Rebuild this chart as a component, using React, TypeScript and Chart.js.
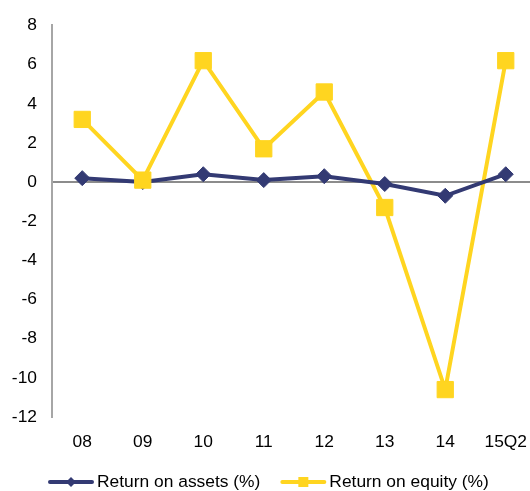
import React, { useEffect, useRef } from 'react';
import { Chart, registerables } from 'chart.js';

Chart.register(...registerables);

const categories = ['08', '09', '10', '11', '12', '13', '14', '15Q2'];
const returnOnAssets = [0.2, 0.0, 0.4, 0.1, 0.3, -0.1, -0.7, 0.4];
const returnOnEquity = [3.2, 0.1, 6.2, 1.7, 4.6, -1.3, -10.6, 6.2];
const seriesLabels = ['Return on assets (%)', 'Return on equity (%)'];
const yMin = -12;
const yMax = 8;
const yStep = 2;

const NAVY = '#333A73';
const YELLOW = '#FFD520';
const FONT = "'Liberation Sans', Arial, sans-serif";

const lineLegend = {
  id: 'lineLegend',
  afterDraw(chart: any) {
    const ctx = chart.ctx as CanvasRenderingContext2D;
    const items = [
      { text: seriesLabels[0], color: NAVY, marker: 'diamond' },
      { text: seriesLabels[1], color: YELLOW, marker: 'square' },
    ];
    ctx.save();
    ctx.font = `17.4px ${FONT}`;
    const lineW = 46;
    const textGap = 3;
    const itemGap = 20;
    const widths = items.map((it) => lineW + textGap + ctx.measureText(it.text).width);
    let x = 48;
    const y = chart.chartArea.bottom + 65;
    items.forEach((it, i) => {
      ctx.strokeStyle = it.color;
      ctx.lineWidth = 4;
      ctx.lineCap = 'round';
      ctx.beginPath();
      ctx.moveTo(x + 2, y);
      ctx.lineTo(x + lineW - 2, y);
      ctx.stroke();
      const cx = x + lineW / 2;
      ctx.fillStyle = it.color;
      ctx.beginPath();
      if (it.marker === 'diamond') {
        const r = 5;
        ctx.moveTo(cx, y - r);
        ctx.lineTo(cx + r, y);
        ctx.lineTo(cx, y + r);
        ctx.lineTo(cx - r, y);
        ctx.closePath();
      } else {
        const s = 5;
        ctx.rect(cx - s, y - s, 2 * s, 2 * s);
      }
      ctx.fill();
      ctx.fillStyle = '#000';
      ctx.textBaseline = 'middle';
      ctx.textAlign = 'left';
      ctx.fillText(it.text, x + lineW + textGap, y);
      x += widths[i] + itemGap;
    });
    ctx.restore();
  },
};

export default function App() {
  const ref = useRef<HTMLCanvasElement | null>(null);

  useEffect(() => {
    const canvas = ref.current;
    if (!canvas) return;
    const chart = new Chart(canvas, {
      type: 'line',
      data: {
        labels: categories,
        datasets: [
          {
            label: seriesLabels[1],
            data: returnOnEquity,
            borderColor: YELLOW,
            backgroundColor: YELLOW,
            borderWidth: 4,
            pointRadius: 0,
            tension: 0,
            order: 3,
          },
          {
            label: seriesLabels[0],
            data: returnOnAssets,
            borderColor: NAVY,
            backgroundColor: NAVY,
            borderWidth: 4,
            pointStyle: 'rectRot',
            pointRadius: 7.5,
            pointBorderWidth: 1,
            pointBorderColor: NAVY,
            pointBackgroundColor: NAVY,
            tension: 0,
            order: 2,
          },
          {
            label: seriesLabels[1] + ' markers',
            data: returnOnEquity,
            showLine: false,
            borderColor: YELLOW,
            backgroundColor: YELLOW,
            pointStyle: 'rect',
            pointRadius: 11.5,
            pointBorderWidth: 1,
            pointBorderColor: YELLOW,
            pointBackgroundColor: YELLOW,
            order: 1,
          },
        ],
      },
      options: {
        responsive: false,
        animation: false,
        devicePixelRatio: 1,
        events: [],
        layout: { autoPadding: false, padding: { top: 23, right: 0, bottom: 40, left: 0 } },
        plugins: {
          legend: { display: false },
          tooltip: { enabled: false },
        },
        scales: {
          x: {
            type: 'category',
            offset: true,
            grid: { display: false, drawTicks: false },
            border: { display: false },
            ticks: {
              font: { family: FONT, size: 17.4 },
              color: '#000',
              padding: 15,
              maxRotation: 0,
              autoSkip: false,
            },
            afterFit: (scale: any) => {
              scale.height = 34;
              scale.paddingLeft = 0;
              scale.paddingRight = 0;
            },
          },
          y: {
            min: yMin,
            max: yMax,
            grid: {
              drawTicks: false,
              lineWidth: 2,
              color: (c: any) => (c.tick && c.tick.value === 0 ? '#8C8C8C' : 'rgba(0,0,0,0)'),
            },
            border: { display: true, color: '#A6A6A6', width: 2 },
            ticks: {
              stepSize: yStep,
              font: { family: FONT, size: 17.4 },
              color: '#000',
              padding: 15,
            },
            afterFit: (scale: any) => {
              scale.width = 52;
            },
          },
        },
      },
      plugins: [lineLegend],
    });
    return () => chart.destroy();
  }, []);

  return (
    <div
      style={{
        position: 'fixed',
        left: 0,
        top: 0,
        width: 530,
        height: 491,
        overflow: 'hidden',
        background: '#fff',
      }}
    >
      <canvas ref={ref} width={536} height={491} style={{ display: 'block', width: 536, height: 491 }} />
    </div>
  );
}
